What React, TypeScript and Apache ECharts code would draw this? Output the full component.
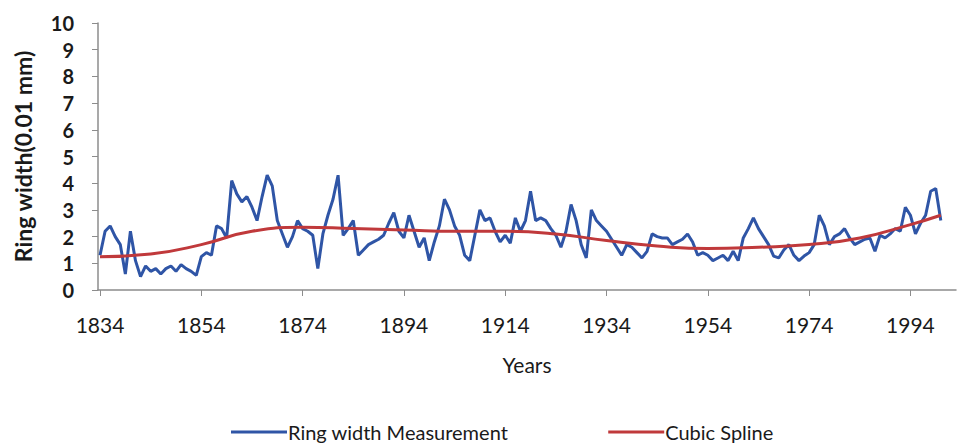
import React, { useEffect, useRef } from "react";
import * as echarts from "echarts";

// Annual ring widths (0.01 mm), one value per year from 1834 to 2000
const firstYear = 1834;
const ringWidth = [
  1.3, 2.2, 2.4, 2.0, 1.7, 0.6, 2.2, 1.1, 0.5, 0.9,
  0.7, 0.8, 0.6, 0.8, 0.9, 0.7, 0.95, 0.8, 0.7, 0.55,
  1.25, 1.4, 1.3, 2.4, 2.3, 1.95, 4.1, 3.6, 3.3, 3.5,
  3.1, 2.6, 3.5, 4.3, 3.9, 2.6, 2.1, 1.6, 2.0, 2.6,
  2.3, 2.2, 2.05, 0.8, 2.1, 2.8, 3.4, 4.3, 2.05, 2.3,
  2.6, 1.3, 1.5, 1.7, 1.8, 1.9, 2.05, 2.5, 2.9, 2.2,
  1.95, 2.8, 2.2, 1.6, 1.95, 1.1, 1.8, 2.4, 3.4, 3.0,
  2.4, 2.05, 1.3, 1.1, 2.05, 3.0, 2.6, 2.7, 2.2, 1.8,
  2.05, 1.75, 2.7, 2.2, 2.6, 3.7, 2.6, 2.7, 2.6, 2.3,
  2.05, 1.6, 2.2, 3.2, 2.6, 1.7, 1.2, 3.0, 2.6, 2.4,
  2.2, 1.9, 1.6, 1.3, 1.7, 1.6, 1.4, 1.2, 1.45, 2.1,
  2.0, 1.95, 1.95, 1.7, 1.8, 1.9, 2.1, 1.8, 1.3, 1.4,
  1.3, 1.1, 1.2, 1.3, 1.1, 1.45, 1.1, 1.95, 2.3, 2.7,
  2.3, 2.0, 1.7, 1.27, 1.2, 1.5, 1.7, 1.3, 1.1, 1.27,
  1.4, 1.7, 2.8, 2.4, 1.7, 2.0, 2.1, 2.3, 1.95, 1.7,
  1.8, 1.9, 1.95, 1.45, 2.05, 1.95, 2.1, 2.3, 2.2, 3.1,
  2.8, 2.1, 2.5, 2.8, 3.7, 3.8, 2.6,
];

// Cubic spline fitted through the series, sampled at knots
const splineYears = [1834, 1844, 1854, 1864, 1874, 1884, 1894, 1904, 1914, 1924, 1934, 1944, 1954, 1964, 1974, 1984, 1994, 2000];
const splineValues = [1.25, 1.35, 1.7, 2.2, 2.35, 2.3, 2.25, 2.2, 2.2, 2.1, 1.85, 1.65, 1.55, 1.6, 1.7, 1.95, 2.45, 2.8];

const xTickYears = [1834, 1854, 1874, 1894, 1914, 1934, 1954, 1974, 1994];
const yTicks = [0, 1, 2, 3, 4, 5, 6, 7, 8, 9, 10];

const measurementData = ringWidth.map((v, i) => [firstYear + i, v]);
const splineData = splineYears.map((y, i) => [y, splineValues[i]]);

export default function App() {
  const ref = useRef<HTMLDivElement>(null);

  useEffect(() => {
    if (!ref.current) return;
    const chart = echarts.init(ref.current, undefined, { renderer: "svg" });
    const font = "Lato, 'Open Sans', sans-serif";
    chart.setOption({
      animation: false,
      backgroundColor: "#ffffff",
      textStyle: { fontFamily: font },
      grid: { left: 98, right: 16, top: 23, bottom: 156, containLabel: false },
      legend: {
        bottom: -1,
        left: 226,
        itemGap: 100,
        itemWidth: 56,
        itemHeight: 3,
        icon: "rect",
        textStyle: { fontSize: 20, color: "#1a1a1a", fontFamily: font, padding: [0, 0, 0, -4] },
        data: ["Ring width Measurement", "Cubic Spline"],
      },
      xAxis: {
        type: "value",
        min: 1833.6,
        max: 2003,
        name: "Years",
        nameLocation: "middle",
        nameGap: 64,
        nameTextStyle: { fontSize: 21, color: "#1a1a1a", fontFamily: font },
        splitLine: { show: false },
        axisLine: { show: true, lineStyle: { color: "#8c8c8c", width: 1.5 } },
        axisTick: { show: true, customValues: xTickYears, length: 6, inside: false, lineStyle: { color: "#8c8c8c" } },
        axisLabel: {
          customValues: xTickYears,
          margin: 24,
          fontSize: 21,
          color: "#1a1a1a",
          fontFamily: font,
          formatter: (v: number) => String(Math.round(v)),
        },
      },
      yAxis: {
        type: "value",
        min: 0,
        max: 10,
        interval: 1,
        name: "Ring width(0.01 mm)",
        nameLocation: "middle",
        nameGap: 64,
        nameRotate: 90,
        nameTextStyle: { fontSize: 23, fontWeight: "bold", color: "#1a1a1a", fontFamily: font },
        splitLine: { show: false },
        axisLine: { show: true, lineStyle: { color: "#8c8c8c", width: 1.5 } },
        axisTick: { show: true, length: 6, lineStyle: { color: "#8c8c8c" } },
        axisLabel: {
          margin: 24,
          fontSize: 20,
          fontWeight: "bold",
          color: "#1a1a1a",
          fontFamily: font,
          formatter: (v: number) => (yTicks.includes(v) ? String(v) : ""),
        },
      },
      series: [
        {
          name: "Ring width Measurement",
          type: "line",
          data: measurementData,
          showSymbol: false,
          symbol: "none",
          lineStyle: { color: "#2f55a6", width: 3 },
          itemStyle: { color: "#2f55a6" },
          z: 2,
        },
        {
          name: "Cubic Spline",
          type: "line",
          data: splineData,
          smooth: true,
          showSymbol: false,
          symbol: "none",
          lineStyle: { color: "#c0393b", width: 3 },
          itemStyle: { color: "#c0393b" },
          z: 3,
        },
      ],
    });
    return () => chart.dispose();
  }, []);

  return (
    <div
      ref={ref}
      style={{ position: "fixed", left: 0, top: 0, width: 972, height: 446, background: "#fff" }}
    />
  );
}
